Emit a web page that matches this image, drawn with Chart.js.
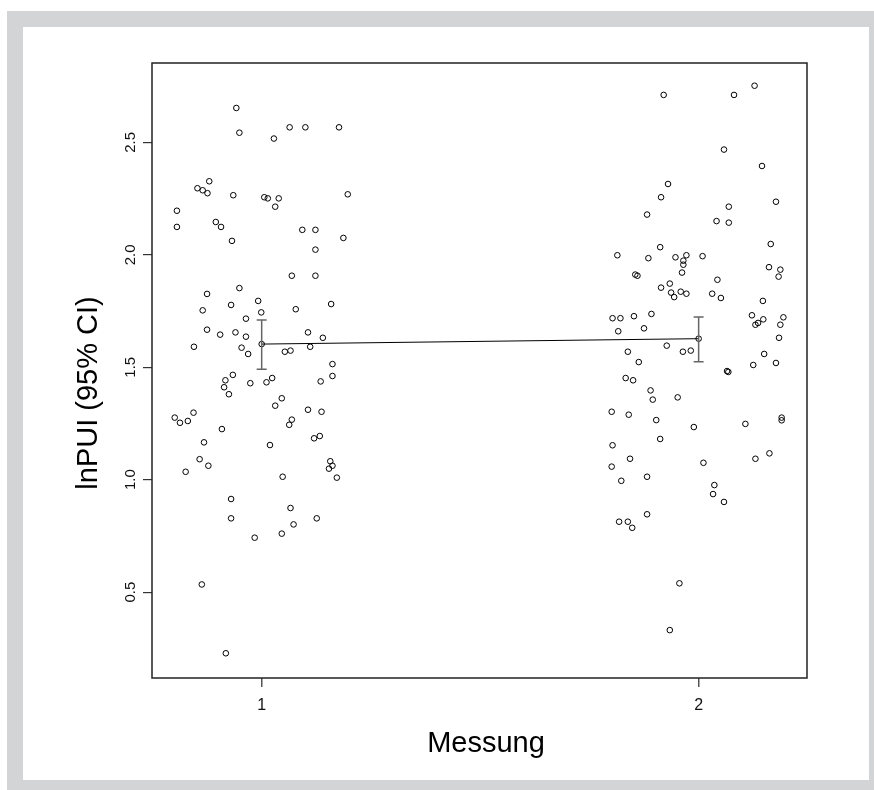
<!DOCTYPE html>
<html>
<head>
<meta charset="utf-8">
<script src="https://cdn.jsdelivr.net/npm/chart.js@4.4.1/dist/chart.umd.min.js"></script>
<style>
  body { margin: 0; background: #fff; }
  #frame { position: absolute; left: 7px; top: 11px; right: 0; bottom: 0; background: #d3d4d6; }
  #panel { position: absolute; left: 23px; top: 27px; width: 846px; height: 753px; background: #fff; }
  #plot { position: absolute; left: 0; top: 0; }
</style>
</head>
<body>
<div id="frame"></div>
<div id="panel"></div>
<canvas id="plot" width="874" height="790"></canvas>
<script>
// Messung 1 / 2, jittered x positions and lnPUI values
var categories = [1, 2];
var categoryLabels = ['1', '2'];

var jitter1 = [0.942, 0.949, 1.064, 1.100, 1.177, 1.028, 0.880, 0.853, 0.865, 0.876,
    0.935, 1.006, 1.014, 1.039, 1.031, 1.197, 0.806, 0.806, 0.895, 0.907,
    0.932, 1.093, 1.123, 1.187, 1.123, 1.069, 1.123, 0.949, 0.875, 0.992,
    0.930, 1.159, 0.865, 0.999, 1.078, 0.964, 0.875, 0.905, 0.940, 0.964,
    1.106, 1.140, 0.845, 0.954, 0.969, 1.053, 1.066, 1.111, 1.162, 1.162,
    0.934, 0.917, 0.914, 0.974, 1.011, 1.024, 1.135, 0.925, 1.046, 1.031,
    1.106, 1.137, 0.801, 0.813, 0.831, 0.844, 1.069, 1.063, 0.909, 1.120,
    1.133, 0.868, 1.019, 0.858, 0.878, 1.157, 1.162, 1.154, 0.826, 1.048,
    1.172, 0.930, 0.930, 1.066, 1.073, 1.126, 0.984, 1.046, 0.863, 0.918];
var values1 = [2.653, 2.543, 2.567, 2.567, 2.567, 2.517, 2.327, 2.296, 2.287, 2.274,
    2.265, 2.256, 2.251, 2.251, 2.214, 2.269, 2.196, 2.124, 2.146, 2.124,
    2.062, 2.111, 2.111, 2.075, 2.023, 1.907, 1.907, 1.852, 1.826, 1.795,
    1.777, 1.781, 1.753, 1.744, 1.758, 1.716, 1.667, 1.645, 1.655, 1.636,
    1.655, 1.631, 1.591, 1.587, 1.559, 1.569, 1.574, 1.591, 1.514, 1.461,
    1.466, 1.442, 1.411, 1.429, 1.433, 1.452, 1.437, 1.380, 1.362, 1.329,
    1.311, 1.302, 1.276, 1.253, 1.261, 1.298, 1.267, 1.244, 1.225, 1.184,
    1.194, 1.166, 1.154, 1.091, 1.062, 1.082, 1.062, 1.049, 1.035, 1.013,
    1.009, 0.914, 0.828, 0.874, 0.801, 0.828, 0.742, 0.760, 0.534, 0.228];

var jitter2 = [1.920, 2.081, 2.128, 2.058, 2.145, 1.930, 1.914, 2.177, 2.069, 1.882,
    2.041, 2.069, 2.165, 1.912, 1.814, 1.885, 1.947, 1.972, 2.009, 1.965,
    1.965, 1.962, 1.855, 1.860, 2.043, 2.161, 2.187, 2.183, 1.934, 1.914,
    1.937, 1.944, 1.959, 1.972, 2.031, 2.051, 2.147, 1.803, 1.821, 1.852,
    1.892, 1.816, 1.875, 2.122, 2.148, 2.130, 2.136, 2.194, 2.187, 2.184,
    1.927, 1.964, 1.982, 1.838, 1.863, 2.150, 2.125, 2.177, 2.065, 2.068,
    1.833, 1.850, 1.890, 1.895, 1.952, 1.801, 1.840, 1.903, 1.989, 2.107,
    2.190, 2.190, 1.912, 1.803, 1.843, 2.011, 2.130, 2.162, 1.801, 1.823,
    1.882, 2.036, 2.033, 2.058, 1.882, 1.818, 1.838, 1.848, 1.956, 1.934];
var values2 = [2.711, 2.711, 2.752, 2.468, 2.395, 2.315, 2.256, 2.236, 2.214, 2.179,
    2.150, 2.143, 2.048, 2.034, 1.998, 1.985, 1.989, 1.998, 1.994, 1.974,
    1.956, 1.921, 1.912, 1.907, 1.889, 1.945, 1.934, 1.903, 1.872, 1.854,
    1.832, 1.812, 1.836, 1.827, 1.827, 1.808, 1.795, 1.718, 1.718, 1.727,
    1.737, 1.660, 1.673, 1.731, 1.713, 1.689, 1.697, 1.722, 1.689, 1.631,
    1.596, 1.569, 1.574, 1.569, 1.523, 1.559, 1.510, 1.519, 1.483, 1.479,
    1.452, 1.442, 1.397, 1.356, 1.366, 1.302, 1.289, 1.265, 1.234, 1.248,
    1.276, 1.264, 1.181, 1.153, 1.093, 1.075, 1.093, 1.117, 1.058, 0.995,
    1.013, 0.976, 0.936, 0.901, 0.846, 0.813, 0.813, 0.786, 0.539, 0.331];

var means = [1.603, 1.627];
var ciLow = [1.491, 1.524];
var ciHigh = [1.710, 1.723];

var yTicks = [0.5, 1.0, 1.5, 2.0, 2.5];
var yTickLabels = ['0.5', '1.0', '1.5', '2.0', '2.5'];

var FONT = '"Liberation Sans", Arial, Helvetica, sans-serif';

function toPoints(xs, ys) {
    return xs.map(function (x, i) { return { x: x, y: ys[i] }; });
}

var pointStyle = {
    showLine: false,
    pointRadius: 2.8,
    pointHoverRadius: 2.8,
    pointBorderWidth: 1,
    pointBorderColor: '#000',
    pointBackgroundColor: 'rgba(0,0,0,0)'
};

// box, error bars, rotated y labels and axis titles
var rPlot = {
    id: 'rPlot',
    afterDatasetsDraw: function (chart) {
        var ctx = chart.ctx, xs = chart.scales.x, ys = chart.scales.y;
        ctx.save();
        ctx.lineWidth = 1.5;
        ctx.strokeStyle = '#666';
        categories.forEach(function (c, i) {
            var px = xs.getPixelForValue(c);
            var top = ys.getPixelForValue(ciHigh[i]);
            var bot = ys.getPixelForValue(ciLow[i]);
            ctx.beginPath();
            ctx.moveTo(px, top); ctx.lineTo(px, bot);
            ctx.moveTo(px - 5, top); ctx.lineTo(px + 5, top);
            ctx.moveTo(px - 5, bot); ctx.lineTo(px + 5, bot);
            ctx.stroke();
        });
        ctx.restore();
    },
    afterDraw: function (chart) {
        var ctx = chart.ctx, a = chart.chartArea, ys = chart.scales.y;
        ctx.save();
        ctx.strokeStyle = '#222';
        ctx.lineWidth = 1.5;
        ctx.strokeRect(a.left, a.top, a.right - a.left, a.bottom - a.top);

        ctx.fillStyle = '#111';
        ctx.font = '15px ' + FONT;
        ctx.textAlign = 'center';
        ctx.textBaseline = 'alphabetic';
        yTicks.forEach(function (v, i) {
            ctx.save();
            ctx.translate(135, ys.getPixelForValue(v));
            ctx.rotate(-Math.PI / 2);
            ctx.fillText(yTickLabels[i], 0, 0);
            ctx.restore();
        });

        ctx.fillStyle = '#000';
        ctx.font = '29px ' + FONT;
        ctx.fillText('Messung', 486, 752);
        ctx.save();
        ctx.translate(97, 393);
        ctx.rotate(-Math.PI / 2);
        ctx.fillText('lnPUI (95% CI)', 0, 0);
        ctx.restore();
        ctx.restore();
    }
};

var chart = new Chart(document.getElementById('plot').getContext('2d'), {
    type: 'scatter',
    data: {
        datasets: [
            Object.assign({ label: 'Messung 1', data: toPoints(jitter1, values1) }, pointStyle),
            Object.assign({ label: 'Messung 2', data: toPoints(jitter2, values2) }, pointStyle),
            Object.assign({}, pointStyle, {
                label: 'Mittelwert',
                data: toPoints(categories, means),
                showLine: true,
                borderColor: '#000',
                borderWidth: 1
            })
        ]
    },
    options: {
        responsive: false,
        animation: false,
        devicePixelRatio: 1,
        layout: { padding: { left: 92, top: 63, right: 67, bottom: 62 } },
        plugins: { legend: { display: false }, tooltip: { enabled: false } },
        scales: {
            x: {
                type: 'linear',
                min: 0.749,
                max: 2.248,
                afterBuildTicks: function (s) { s.ticks = categories.map(function (v) { return { value: v }; }); },
                afterFit: function (s) { s.height = 50; },
                ticks: {
                    callback: function (v) { return categoryLabels[categories.indexOf(v)]; },
                    font: { family: FONT, size: 16 },
                    color: '#111',
                    padding: 9,
                    maxRotation: 0
                },
                grid: { drawOnChartArea: false, drawTicks: true, tickLength: 9, tickColor: '#555', lineWidth: 1.5 },
                border: { display: false }
            },
            y: {
                type: 'linear',
                min: 0.118,
                max: 2.853,
                afterBuildTicks: function (s) { s.ticks = yTicks.map(function (v) { return { value: v }; }); },
                afterFit: function (s) { s.width = 60; },
                ticks: { display: false },
                grid: { drawOnChartArea: false, drawTicks: true, tickLength: 9, tickColor: '#333', lineWidth: 1.2 },
                border: { display: false }
            }
        }
    },
    plugins: [rPlot]
});
</script>
</body>
</html>
